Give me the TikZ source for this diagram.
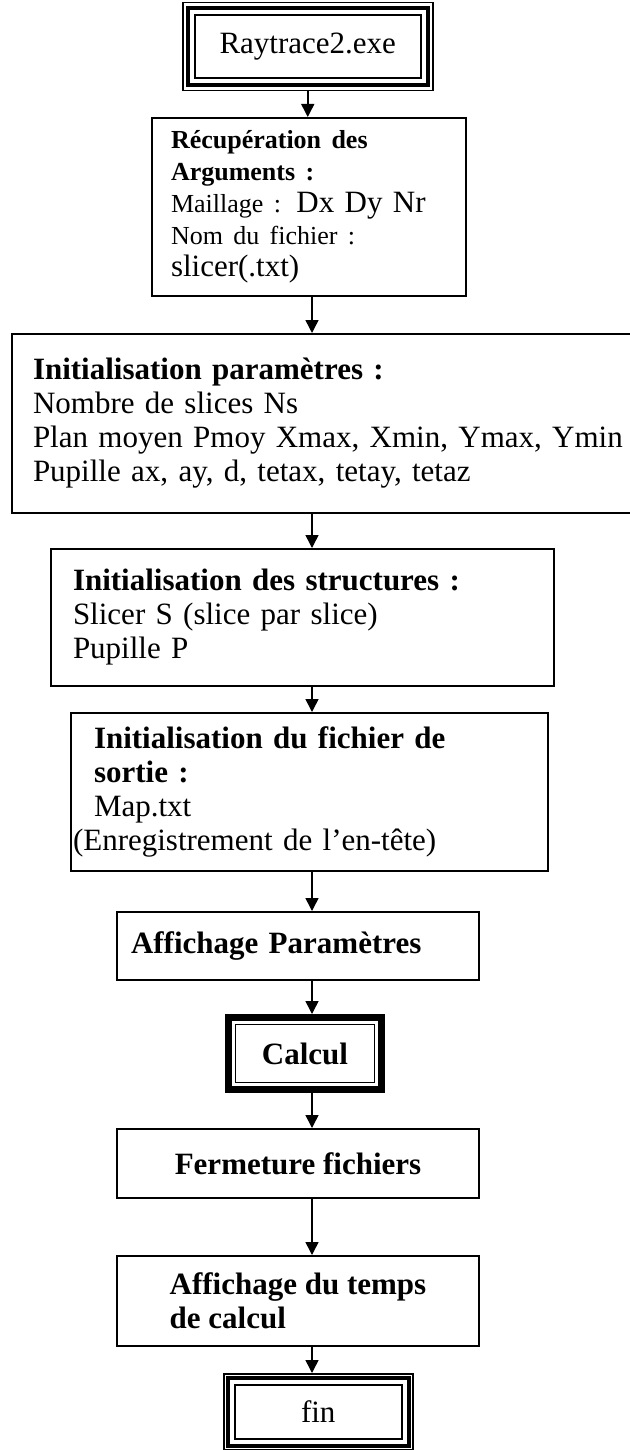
\documentclass[tikz,border=0pt]{standalone}
\usepackage{fontspec}
\setmainfont{Liberation Serif}
\usepackage{tikz}
\usetikzlibrary{arrows.meta, positioning}

\newcommand{\argsize}{\fontsize{13}{16}\selectfont}
\newcommand{\boxsize}{\fontsize{15.5}{17}\selectfont}

\begin{document}
\begin{tikzpicture}[%
  x=0.5pt, y=-0.5pt,%
  flow/.style={line width=0.75pt, -{Triangle[length=6.5pt, width=6.5pt]}},%
  stepbox/.style={draw, line width=1pt, anchor=north west, align=left, font=\boxsize},%
  endbox/.style={draw, line width=0.75pt, anchor=north west, align=center, font=\boxsize}%
]
  \path[use as bounding box, fill=white] (0,0) rectangle (629,1450);
  \coordinate (spine) at (312,0);
  % debut
  \node[endbox, minimum width=125pt, minimum height=44pt] (start) at (182,2) {Raytrace2.exe};
  \draw[line width=2pt] ([shift={(6,6)}]start.north west) rectangle ([shift={(-6,-6)}]start.south east);
  \draw[line width=1pt] ([shift={(13,13)}]start.north west) rectangle ([shift={(-13,-13)}]start.south east);
  % etapes
  \node[stepbox, minimum height=89pt, text width=138pt, inner xsep=9.5pt, font=\fontsize{15.5}{16}\selectfont] (args) at (151,117)
    {{\bfseries\argsize R\'ecup\'eration des}\\{\bfseries\argsize Arguments :}\\{\argsize Maillage :} Dx Dy Nr\\{\argsize Nom du fichier :}\\slicer(.txt)};
  \node[stepbox, minimum height=89.5pt, text width=305pt, inner xsep=10.5pt] (param) at (11,333)
    {\textbf{Initialisation param\`etres :}\\Nombre de slices Ns\\Plan moyen Pmoy Xmax, Xmin, Ymax, Ymin\\Pupille ax, ay, d, tetax, tetay, tetaz};
  \node[stepbox, minimum height=68.5pt, text width=229.5pt, inner xsep=11pt] (struct) at (50,548)
    {\textbf{Initialisation des structures :}\\Slicer S (slice par slice)\\Pupille P};
  \node[stepbox, minimum height=79pt, text width=215.5pt, inner xsep=11.5pt] (output) at (70,712)
    {\textbf{Initialisation du fichier de}\\\textbf{sortie :}\\Map.txt\\\hspace*{-10.5pt}(Enregistrement de l’en-t\^ete)};
  \node[stepbox, minimum height=34pt, text width=167pt, inner xsep=7pt, font=\bfseries\boxsize] (show) at (116,911) {Affichage Param\`etres};
  % calcul
  \node[draw, line width=3.5pt, anchor=north west, minimum width=76.5pt, minimum height=36pt, font=\bfseries\boxsize] (calc) at (225,1014) {Calcul};
  \draw[line width=0.75pt] ([shift={(10.5,10.5)}]calc.north west) rectangle ([shift={(-10.5,-10.5)}]calc.south east);
  \node[stepbox, align=center, minimum width=181pt, minimum height=34.5pt, font=\bfseries\boxsize] (close) at (116,1128) {Fermeture fichiers};
  \node[stepbox, minimum width=181pt, minimum height=45pt, font=\bfseries\boxsize] (timing) at (116,1255) {Affichage du temps\\de calcul};
  % fin
  \node[endbox, minimum width=94.5pt, minimum height=38pt] (stop) at (223,1373) {fin};
  \draw[line width=2pt] ([shift={(5,5)}]stop.north west) rectangle ([shift={(-5,-5)}]stop.south east);
  \draw[line width=1pt] ([shift={(12,12)}]stop.north west) rectangle ([shift={(-12,-12)}]stop.south east);
  % fleches
  \draw[flow] (start.south) -- (start.south |- args.north);
  \foreach \a/\b in {args/param, param/struct, struct/output, output/show, show/calc, calc/close, close/timing, timing/stop}
    \draw[flow] (\a.south -| spine) -- (\b.north -| spine);
\end{tikzpicture}
\end{document}
